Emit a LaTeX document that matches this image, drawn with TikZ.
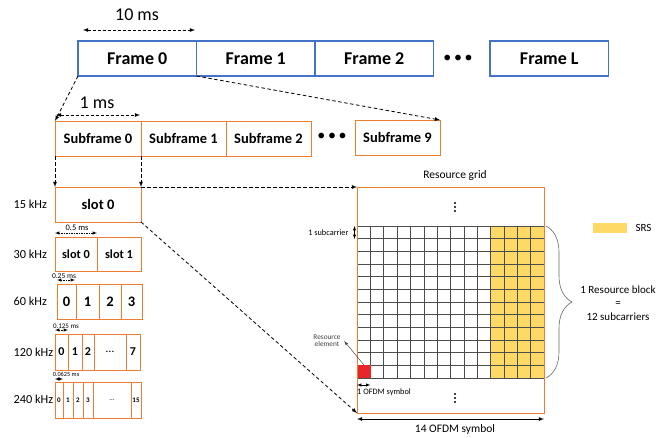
\documentclass[tikz,border=0pt]{standalone}
\usepackage{fontspec}
\setmainfont{Carlito}
\usepackage{tikz}
\usetikzlibrary{decorations.pathreplacing}

\definecolor{frameblue}{HTML}{4472C4}
\definecolor{sforange}{HTML}{ED7D31}
\definecolor{srsyellow}{HTML}{FFD966}
\definecolor{rered}{HTML}{E8262A}
\newcommand{\fsz}[1]{\fontsize{#1}{#1}\selectfont}

\begin{document}
\begin{tikzpicture}[x=1pt, y=-1pt, >=latex,
    frm/.style={draw=frameblue, line width=1.1pt, minimum width=118.5pt, minimum height=35pt,
                inner sep=0pt, outer sep=0pt, anchor=north west, font=\bfseries\fsz{18}},
    cell/.style={draw=sforange, line width=1pt, inner sep=0pt, outer sep=0pt, anchor=north west},
    dimarrow/.style={<->, line width=0.8pt, dash pattern=on 3pt off 2pt},
    zoomline/.style={->, line width=0.8pt, dash pattern=on 3.5pt off 2.5pt},
    tinyarrow/.style={<->, line width=0.5pt, dash pattern=on 1.5pt off 1pt},
    gridline/.style={line width=0.5pt, black!70},
    khz/.style={anchor=west, font=\fsz{12.3}},
    ms/.style={font=\fsz{#1}},
]
    \useasboundingbox (0,0) rectangle (656,437);

    % frames
    \node[frm] (f0) at (78,41) {Frame 0};
    \node[frm] (f1) at (f0.north east) {Frame 1};
    \node[frm] (f2) at (f1.north east) {Frame 2};
    \node[font=\fsz{16}] (fdots) at (458,59) {\textbullet\,\textbullet\,\textbullet};
    \node[frm] (fL) at (490,41) {Frame L};

    \node[font=\fsz{18}] (ten) at (137,15) {10 ms};
    \coordinate (tenL) at (83,30);
    \coordinate (tenR) at (195,30);
    \draw[dimarrow] (tenL) -- (tenR);

    % subframes
    \node[cell, minimum width=86pt, minimum height=35pt, font=\bfseries\fsz{14.5}] (sf0) at (55,121) {Subframe 0};
    \node[cell, minimum width=85pt, minimum height=35pt, font=\bfseries\fsz{14.5}] (sf1) at (sf0.north east) {Subframe 1};
    \node[cell, minimum width=85pt, minimum height=35pt, font=\bfseries\fsz{14.5}] (sf2) at (sf1.north east) {Subframe 2};
    \node[font=\fsz{16}] (sfdots) at (332,137) {\textbullet\,\textbullet\,\textbullet};
    \node[cell, minimum width=85pt, minimum height=35pt, font=\bfseries\fsz{14.5}] (sf9) at (355,120) {Subframe 9};

    \draw[zoomline] (f0.south west) -- (sf0.north west);
    \draw[zoomline] (f0.south east) -- (sf9.north east);

    \node[font=\fsz{18}] (one) at (97,103) {1 ms};
    \coordinate (oneL) at (56,115);
    \coordinate (oneR) at (140,115);
    \draw[dimarrow] (oneL) -- (oneR);

    % numerologies
    \node[khz] (k15) at (10,204.5) {15 kHz};
    \node[cell, minimum width=86pt, minimum height=35pt, font=\bfseries\fsz{14.5}] (s15) at (55,187) {slot 0};
    \draw[zoomline] (sf0.south west) -- (s15.north west);
    \draw[zoomline] (sf0.south east) -- (s15.north east);

    \node[ms=8.5] (m30) at (77,228) {0.5 ms};
    \coordinate (m30L) at (55,233);
    \coordinate (m30R) at (97,233);
    \draw[tinyarrow] (m30L) -- (m30R);
    \node[khz] (k30) at (10,254) {30 kHz};
    \node[cell, minimum width=42pt, minimum height=34pt, font=\bfseries\fsz{12.3}] (s30a) at (55,237) {slot 0};
    \node[cell, minimum width=44pt, minimum height=34pt, font=\bfseries\fsz{12.3}] (s30b) at (s30a.north east) {slot 1};

    \node[ms=7.5] (m60) at (64,276) {0.25 ms};
    \coordinate (m60L) at (57,280);
    \coordinate (m60R) at (75,280);
    \draw[tinyarrow] (m60L) -- (m60R);
    \node[khz] (k60) at (10,301.5) {60 kHz};
    \foreach \xa/\w/\lb [count=\i] in {57/19/0, 76/23/1, 99/22/2, 121/21/3}
        \node[cell, minimum width=\w pt, minimum height=35pt, font=\bfseries\fsz{14.5}] (r60-\i) at (\xa,284) {\lb};

    \node[ms=7] (m120) at (66,326) {0.125 ms};
    \coordinate (m120L) at (55,330);
    \coordinate (m120R) at (68,330);
    \draw[tinyarrow] (m120L) -- (m120R);
    \node[khz] (k120) at (10,352) {120 kHz};
    \foreach \xa/\w/\lb [count=\i] in {55/13/0, 68/14/1, 82/12/2, 94/32/{\normalfont\dots}, 126/14/7}
        \node[cell, minimum width=\w pt, minimum height=36pt, font=\bfseries\fsz{12}] (r120-\i) at (\xa,334) {\lb};

    \node[ms=6.3] (m240) at (66,374) {0.0625 ms};
    \coordinate (m240L) at (55,379);
    \coordinate (m240R) at (63,379);
    \draw[tinyarrow] (m240L) -- (m240R);
    \node[khz] (k240) at (10,399) {240 kHz};
    \foreach \xa/\w/\lb [count=\i] in {55/8/0, 63/10/1, 73/10/2, 83/10/3, 93/38/{\normalfont\dots}, 131/10/15}
        \node[cell, minimum width=\w pt, minimum height=36pt, font=\bfseries\fsz{7}] (r240-\i) at (\xa,382) {\lb};

    % resource grid
    \fill[srsyellow] (490.6,226) rectangle (544,378);
    \foreach \r in {0,...,12}
        \draw[gridline] (357,{226+\r*12.667}) -- (544,{226+\r*12.667});
    \foreach \c in {1,...,13}
        \draw[gridline] ({357+\c*13.357},226) -- ({357+\c*13.357},378);
    \node[fill=rered, minimum width=13.4pt, minimum height=12.7pt, inner sep=0pt, anchor=south west] (recell) at (357,378) {};
    \node[draw=sforange, line width=1pt, minimum width=187pt, minimum height=226pt,
          inner sep=0pt, outer sep=0pt, anchor=north west] (rg) at (357,187) {};
    \node[font=\fsz{11.5}] (rgtitle) at (455,175) {Resource grid};
    % vertical dots above and below
    \foreach \yd in {203,207,211,394,398,402}
        \fill (455,\yd) circle (1.1pt);

    \draw[zoomline] (s15.north east) -- (rg.north west);
    \draw[zoomline] (s15.south east) -- (rg.south west);

    % labels on the grid
    \node[anchor=east, font=\fsz{8.3}] (sclbl) at (352,233) {1 subcarrier};
    \coordinate (scT) at (354.5,226);
    \coordinate (scB) at (354.5,239);
    \draw[<->, line width=0.5pt] (scT) -- (scB);

    \node[align=center, font=\fsz{7.3}, text=black!75] (relbl) at (327,341) {Resource\\element};
    \draw[->, line width=0.5pt, black!70] (recell.north) -- (relbl.east);

    \coordinate (osL) at (357,385);
    \coordinate (osR) at (370.4,385);
    \draw[<->, line width=0.5pt] (osL) -- (osR);
    \node[anchor=west, font=\fsz{8.3}, inner sep=0pt] (oslbl) at (357,392) {1 OFDM symbol};

    \coordinate (fsL) at (357,419);
    \coordinate (fsR) at (544,419);
    \draw[<->, line width=0.8pt] (fsL) -- (fsR);
    \node[font=\fsz{11.5}] (fslbl) at (455,429) {14 OFDM symbol};

    % resource block and legend
    \draw[decorate, decoration={brace, amplitude=26pt, aspect=0.5}, line width=0.6pt, black!60] (546,226) -- (546,378);
    \node[align=center, font=\fontsize{11}{13.5}\selectfont] (rbtxt) at (618,303) {1 Resource block\\=\\12 subcarriers};

    \node[fill=srsyellow, minimum width=34pt, minimum height=10pt, inner sep=0pt, anchor=north west] (srsbox) at (593,223) {};
    \node[anchor=west, font=\fsz{11}] (srstxt) at (632,228) {SRS};

\end{tikzpicture}
\end{document}
